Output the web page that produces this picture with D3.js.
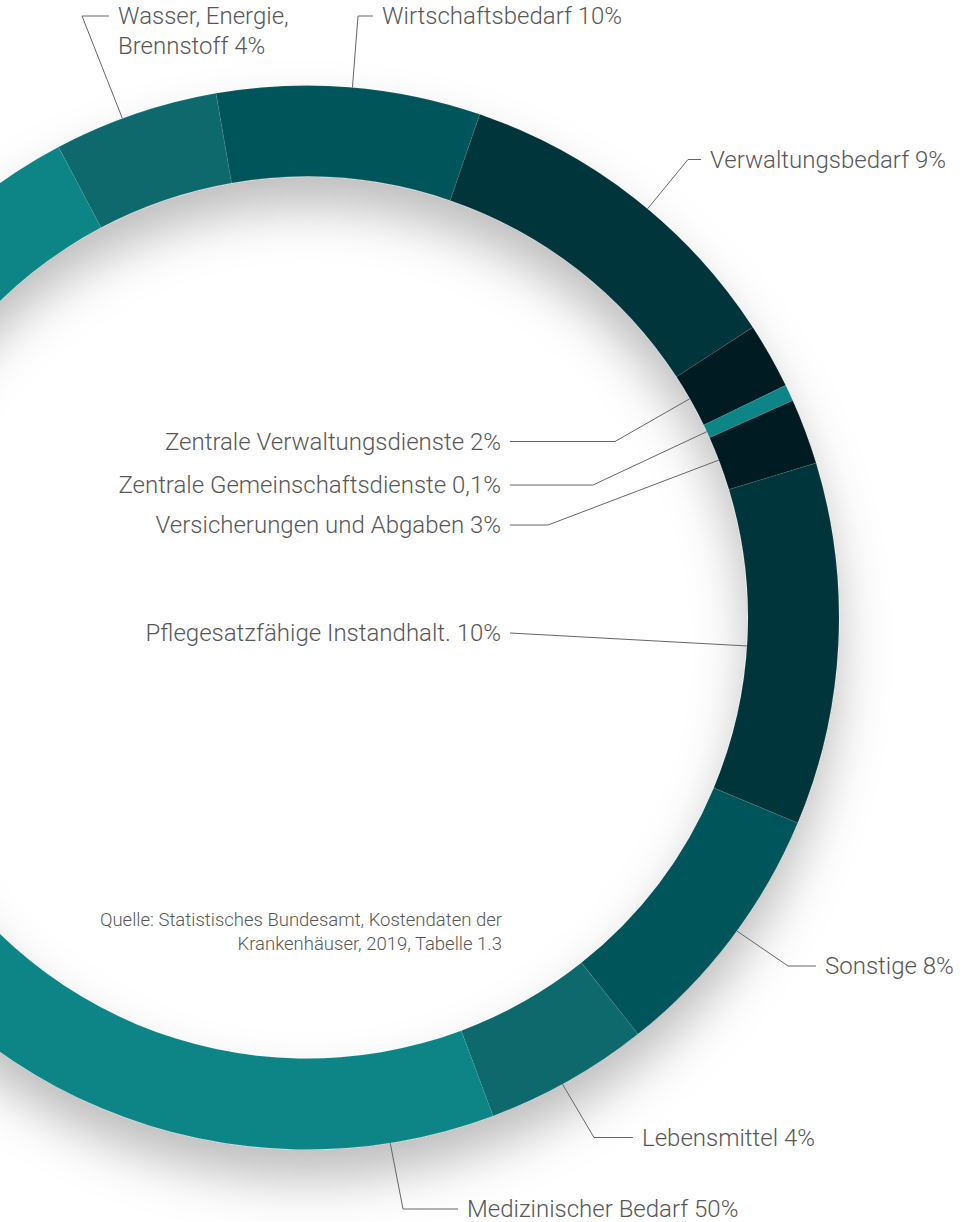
<!DOCTYPE html>
<html>
<head>
<meta charset="utf-8">
<script src="https://cdn.jsdelivr.net/npm/d3@7"></script>
<style>
  body { margin: 0; background: #fff; }
  svg { display: block; }
  .label { font-family: "Roboto", "Liberation Sans", sans-serif; font-weight: 300; fill: #575757; }
  .leader { fill: none; stroke: #666; stroke-width: 1; }
</style>
</head>
<body>
<svg id="donut"></svg>
<script>
// categories, clockwise, starting with "Wasser, Energie, Brennstoff"
const categories = [
  "Wasser, Energie, Brennstoff", "Wirtschaftsbedarf", "Verwaltungsbedarf",
  "Zentrale Verwaltungsdienste", "Zentrale Gemeinschaftsdienste",
  "Versicherungen und Abgaben", "Pflegesatzfähige Instandhalt.",
  "Sonstige", "Lebensmittel", "Medizinischer Bedarf"
];

// share of the ring as drawn (percent)
const shares = [5.0, 8.0, 10.55, 2.0, 0.5, 2.0, 11.0, 8.0, 5.0, 47.95];

// percentages printed in the labels
const percentLabels = ["4%", "10%", "9%", "2%", "0,1%", "3%", "10%", "8%", "4%", "50%"];

const colorLUT = [
  "#08696c", "#04555a", "#02363b", "#011f23", "#0a8587",
  "#011f23", "#02363b", "#04555a", "#08696c", "#0a8587"
];

const sourceLines = [
  "Quelle: Statistisches Bundesamt, Kostendaten der",
  "Krankenhäuser, 2019, Tabelle 1.3"
];

var width = 964;
var height = 1222;
var cx = 307;
var cy = 617.5;
var outerR = 532;
var innerR = 441;
var startDeg = -27.85;

// where each leader line meets the ring and where it bends
var labelLayout = [
  { angle: -20.3, ring: "outer", elbow: [82, 16], end: 109, side: "right", wrap: "Energie," },
  { angle: 4.9, ring: "outer", elbow: [358, 16], end: 373, side: "right" },
  { angle: 39.8, ring: "outer", elbow: [688, 159.5], end: 701, side: "right" },
  { angle: 60.25, ring: "inner", elbow: [615, 441.5], end: 510, side: "left" },
  { angle: 65.07, ring: "inner", elbow: [593, 485], end: 510, side: "left" },
  { angle: 69.08, ring: "inner", elbow: [548, 525], end: 510, side: "left" },
  { angle: 93.7, ring: "inner", elbow: [510, 633], end: 510, side: "left" },
  { angle: 126.1, ring: "outer", elbow: [788, 966], end: 816, side: "right" },
  { angle: 151.3, ring: "outer", elbow: [594, 1137.5], end: 633, side: "right" },
  { angle: 171, ring: "outer", elbow: [403, 1209], end: 458, side: "right" }
];

function rad(deg) {
  return deg * Math.PI / 180;
}

/**
 * Draws the donut ring with its drop shadow.
 */
function drawRing(svg) {
  var defs = svg.append("defs");
  var filter = defs.append("filter")
    .attr("id", "shadow")
    .attr("x", "-30%")
    .attr("y", "-30%")
    .attr("width", "160%")
    .attr("height", "160%");
  filter.append("feDropShadow")
    .attr("dx", 0)
    .attr("dy", 30)
    .attr("stdDeviation", 25)
    .attr("flood-color", "#000")
    .attr("flood-opacity", 0.26);

  var pie = d3.pie()
    .sort(null)
    .value(function(d) { return d; })
    .startAngle(rad(startDeg))
    .endAngle(rad(startDeg) + 2 * Math.PI);

  var arc = d3.arc()
    .innerRadius(innerR)
    .outerRadius(outerR);

  svg.append("g")
    .attr("transform", "translate(" + cx + "," + cy + ")")
    .attr("filter", "url(#shadow)")
    .selectAll(".slice")
    .data(pie(shares))
    .enter().append("path")
    .attr("class", "slice")
    .attr("fill", function(d, i) { return colorLUT[i]; })
    .attr("stroke", "rgba(255,255,255,0.12)")
    .attr("stroke-width", 0.6)
    .attr("d", arc);
}

/**
 * Draws the leader lines and the category labels.
 */
function drawLabels(svg) {
  var g = svg.append("g");

  labelLayout.forEach(function(l, i) {
    var r = l.ring === "outer" ? outerR : innerR;
    var p = d3.pointRadial(rad(l.angle), r);
    var anchor = [cx + p[0], cy + p[1]];
    var y = l.elbow[1];

    g.append("path")
      .attr("class", "leader")
      .attr("d", d3.line()([anchor, l.elbow, [l.end, y]]));

    var text = categories[i] + " " + percentLabels[i];
    var lines = [text];
    if (l.wrap) {
      var k = text.indexOf(l.wrap) + l.wrap.length;
      lines = [text.slice(0, k), text.slice(k + 1)];
    }

    var tx = l.side === "right" ? l.end + 9 : l.end - 9;
    var t = g.append("text")
      .attr("class", "label")
      .attr("x", tx)
      .attr("y", y)
      .style("font-size", "24px")
      .style("text-anchor", l.side === "right" ? "start" : "end");
    lines.forEach(function(s, j) {
      t.append("tspan")
        .attr("x", tx)
        .attr("dy", j === 0 ? "0.35em" : "30px")
        .text(s);
    });
  });
}

/**
 * Draws the source note inside the ring.
 */
function drawSource(svg) {
  svg.append("text")
    .attr("class", "label")
    .attr("x", 502)
    .attr("y", 920)
    .style("font-size", "18.5px")
    .style("text-anchor", "end")
    .selectAll("tspan")
    .data(sourceLines)
    .enter().append("tspan")
    .attr("x", 502)
    .attr("dy", function(d, i) { return i === 0 ? "0.35em" : "23.5px"; })
    .text(function(d) { return d; });
}

function setup() {
  var svg = d3.select("#donut")
    .attr("width", width)
    .attr("height", height);
  drawRing(svg);
  drawLabels(svg);
  drawSource(svg);
}

setup();
</script>
</body>
</html>
